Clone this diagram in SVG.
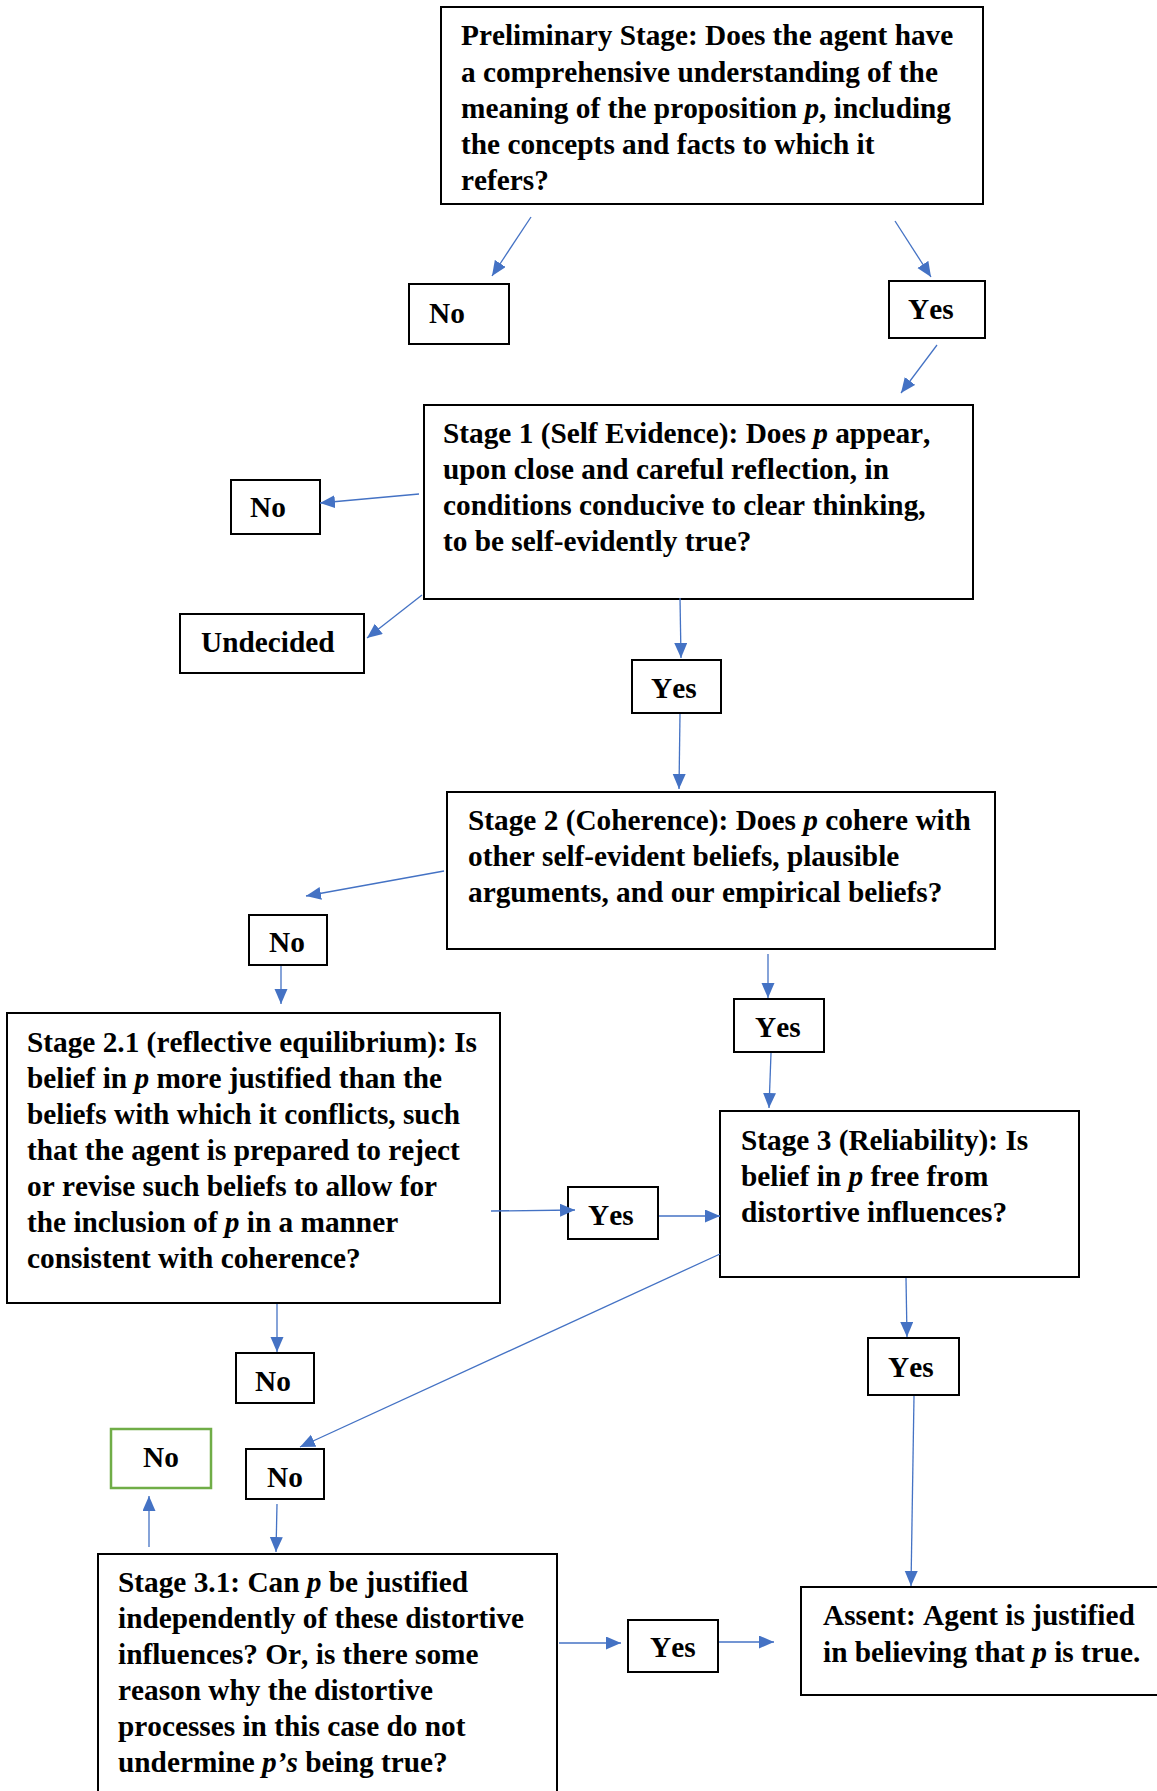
<svg xmlns="http://www.w3.org/2000/svg" width="1157" height="1791" viewBox="0 0 1157 1791">
<style>
.box{fill:#fff;stroke:#000;stroke-width:2}
.gbox{fill:#fff;stroke:#70AD47;stroke-width:2.5}
.t{font-family:"Liberation Serif","Times New Roman",serif;font-weight:bold;font-size:29.3px;fill:#000;font-kerning:none}
.i{font-style:italic}
.c line{stroke:#4472C4;stroke-width:1.3;marker-end:url(#ah)}
</style>
<defs>
<marker id="ah" markerUnits="userSpaceOnUse" markerWidth="16" markerHeight="14" refX="15" refY="6.5" orient="auto">
<path d="M0,0 L15,6.5 L0,13 z" fill="#4472C4"/>
</marker>
</defs>
<rect width="1157" height="1791" fill="#fff"/>
<g id="prelim">
<rect class="box" x="441" y="7" width="542" height="197"/>
<text class="t" x="461" y="45">Preliminary Stage: Does the agent have</text>
<text class="t" x="461" y="82">a comprehensive understanding of the</text>
<text class="t" x="461" y="118">meaning of the proposition <tspan class="i">p</tspan>, including</text>
<text class="t" x="461" y="154">the concepts and facts to which it</text>
<text class="t" x="461" y="190">refers?</text>
</g>
<g id="no0"><rect class="box" x="409" y="284" width="100" height="60"/><text class="t" x="429" y="323">No</text></g>
<g id="yes0"><rect class="box" x="889" y="281" width="96" height="57"/><text class="t" x="908" y="319">Yes</text></g>
<g id="stage1">
<rect class="box" x="424" y="405" width="549" height="194"/>
<text class="t" x="443" y="443">Stage 1 (Self Evidence): Does <tspan class="i">p</tspan> appear,</text>
<text class="t" x="443" y="479">upon close and careful reflection, in</text>
<text class="t" x="443" y="515">conditions conducive to clear thinking,</text>
<text class="t" x="443" y="551">to be self-evidently true?</text>
</g>
<g id="no1"><rect class="box" x="231" y="480" width="89" height="54"/><text class="t" x="250" y="517">No</text></g>
<g id="undecided"><rect class="box" x="180" y="614" width="184" height="59"/><text class="t" x="201" y="652">Undecided</text></g>
<g id="yes1"><rect class="box" x="632" y="660" width="89" height="53"/><text class="t" x="651" y="698">Yes</text></g>
<g id="stage2">
<rect class="box" x="447" y="792" width="548" height="157"/>
<text class="t" x="468" y="830">Stage 2 (Coherence): Does <tspan class="i">p</tspan> cohere with</text>
<text class="t" x="468" y="866">other self-evident beliefs, plausible</text>
<text class="t" x="468" y="902">arguments, and our empirical beliefs?</text>
</g>
<g id="no2"><rect class="box" x="249" y="915" width="78" height="50"/><text class="t" x="269" y="952">No</text></g>
<g id="yes2"><rect class="box" x="734" y="999" width="90" height="53"/><text class="t" x="755" y="1037">Yes</text></g>
<g id="stage21">
<rect class="box" x="7" y="1013" width="493" height="290"/>
<text class="t" x="27" y="1052">Stage 2.1 (reflective equilibrium): Is</text>
<text class="t" x="27" y="1088">belief in <tspan class="i">p</tspan> more justified than the</text>
<text class="t" x="27" y="1124">beliefs with which it conflicts, such</text>
<text class="t" x="27" y="1160">that the agent is prepared to reject</text>
<text class="t" x="27" y="1196">or revise such beliefs to allow for</text>
<text class="t" x="27" y="1232">the inclusion of <tspan class="i">p</tspan> in a manner</text>
<text class="t" x="27" y="1268">consistent with coherence?</text>
</g>
<g id="yes21"><rect class="box" x="568" y="1187" width="90" height="52"/><text class="t" x="588" y="1225">Yes</text></g>
<g id="stage3">
<rect class="box" x="720" y="1111" width="359" height="166"/>
<text class="t" x="741" y="1150">Stage 3 (Reliability): Is</text>
<text class="t" x="741" y="1186">belief in <tspan class="i">p</tspan> free from</text>
<text class="t" x="741" y="1222">distortive influences?</text>
</g>
<g id="no21"><rect class="box" x="236" y="1353" width="78" height="50"/><text class="t" x="255" y="1391">No</text></g>
<g id="yes3"><rect class="box" x="868" y="1338" width="91" height="57"/><text class="t" x="888" y="1377">Yes</text></g>
<g id="nogreen"><rect class="gbox" x="111" y="1429" width="100" height="59"/><text class="t" x="143" y="1467">No</text></g>
<g id="no3"><rect class="box" x="246" y="1449" width="78" height="50"/><text class="t" x="267" y="1487">No</text></g>
<g id="stage31">
<rect class="box" x="98" y="1554" width="459" height="260"/>
<text class="t" x="118" y="1592">Stage 3.1: Can <tspan class="i">p</tspan> be justified</text>
<text class="t" x="118" y="1628">independently of these distortive</text>
<text class="t" x="118" y="1664">influences? Or, is there some</text>
<text class="t" x="118" y="1700">reason why the distortive</text>
<text class="t" x="118" y="1736">processes in this case do not</text>
<text class="t" x="118" y="1772">undermine <tspan class="i">p’s</tspan> being true?</text>
</g>
<g id="yes31"><rect class="box" x="628" y="1620" width="90" height="52"/><text class="t" x="650" y="1657">Yes</text></g>
<g id="assent">
<rect class="box" x="801" y="1587" width="380" height="108"/>
<text class="t" x="823" y="1625">Assent: Agent is justified</text>
<text class="t" x="823" y="1662">in believing that <tspan class="i">p</tspan> is true.</text>
</g>
<g class="c" id="connectors">
<line x1="531" y1="217" x2="492" y2="276"/>
<line x1="895" y1="221" x2="931" y2="277"/>
<line x1="937" y1="345" x2="901" y2="393"/>
<line x1="419" y1="494" x2="320" y2="503"/>
<line x1="422" y1="595" x2="367" y2="638"/>
<line x1="680" y1="598" x2="681" y2="658"/>
<line x1="680" y1="714" x2="679" y2="789"/>
<line x1="444" y1="871" x2="306" y2="896"/>
<line x1="281" y1="966" x2="281" y2="1004"/>
<line x1="491" y1="1211" x2="575" y2="1210"/>
<line x1="659" y1="1216" x2="720" y2="1216"/>
<line x1="768" y1="954" x2="768" y2="998"/>
<line x1="771" y1="1053" x2="769" y2="1108"/>
<line x1="720" y1="1254" x2="300" y2="1447"/>
<line x1="277" y1="1304" x2="277" y2="1352"/>
<line x1="277" y1="1504" x2="276" y2="1552"/>
<line x1="149" y1="1547" x2="149" y2="1496"/>
<line x1="559" y1="1643" x2="621" y2="1643"/>
<line x1="719" y1="1642" x2="774" y2="1642"/>
<line x1="906" y1="1278" x2="907" y2="1337"/>
<line x1="914" y1="1396" x2="911" y2="1586"/>
</g>
</svg>
